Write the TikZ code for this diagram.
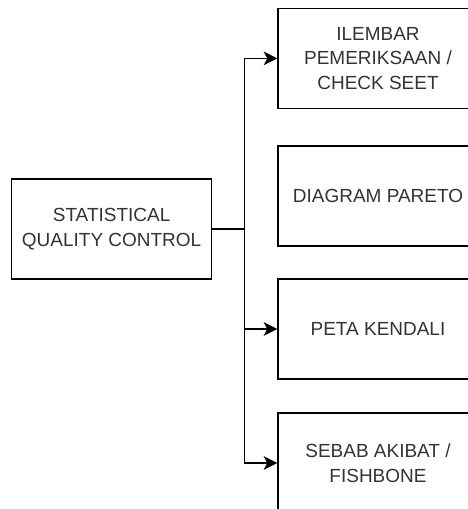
\documentclass[tikz,border=0pt]{standalone}
\usepackage{fontspec}
\setmainfont{Liberation Sans}
\usepackage{tikz}
\usetikzlibrary{arrows.meta}
\definecolor{txtgray}{HTML}{333333}
\tikzset{
  box/.style={draw=black, line width=1pt, minimum width=5cm, minimum height=2.5cm,
    align=center, text=txtgray, font=\fontsize{13.5}{17.5}\selectfont, inner sep=0pt},
  arr/.style={line width=1pt, -{Stealth[length=0.34cm,width=0.34cm,inset=0.09cm]}}
}

\begin{document}
\begin{tikzpicture}
\clip (0,0) rectangle (11.7,-12.725);
% main box on the left
\node[box] (sqc) at (2.79,-5.725) {STATISTICAL\\QUALITY CONTROL};
% the four tools on the right
\node[box] (ilembar) at (9.45,-1.46) {ILEMBAR\\PEMERIKSAAN /\\CHECK SEET};
\node[box] (pareto) at (9.45,-4.9) {DIAGRAM PARETO};
\node[box] (peta) at (9.45,-8.225) {PETA KENDALI};
\node[box] (sebab) at (9.45,-11.575) {SEBAB AKIBAT /\\FISHBONE};
% connectors
\coordinate (split) at (6.11,-5.725);
\draw[line width=1pt] (sqc.east) -- (split);
\draw[arr] (split) |- (ilembar.west);
\draw[arr] (split) |- (peta.west);
\draw[arr] (split) |- (sebab.west);
\end{tikzpicture}
\end{document}
